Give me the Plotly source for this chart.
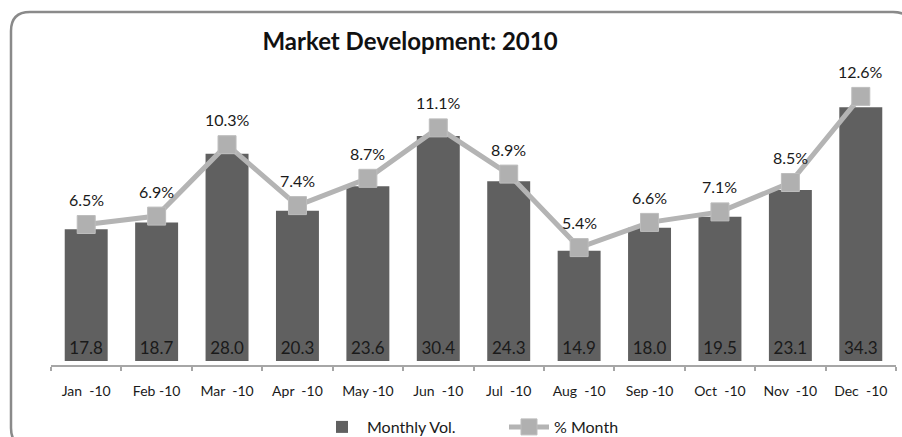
import plotly.graph_objects as go

months = ["Jan\u00a0 -10", "Feb -10", "Mar\u00a0 -10", "Apr\u00a0 -10", "May -10", "Jun\u00a0 -10",
          "Jul\u00a0 -10", "Aug\u00a0 -10", "Sep -10", "Oct\u00a0 -10", "Nov\u00a0 -10", "Dec\u00a0 -10"]
monthly_vol = [17.8, 18.7, 28.0, 20.3, 23.6, 30.4, 24.3, 14.9, 18.0, 19.5, 23.1, 34.3]
pct_month = [6.5, 6.9, 10.3, 7.4, 8.7, 11.1, 8.9, 5.4, 6.6, 7.1, 8.5, 12.6]

FONT = "Lato"
W, H = 902, 437
ML, MR, MT, MB = 51, 6, 60, 72
PW, PH = W - ML - MR, H - MT - MB

fig = go.Figure()
fig.add_trace(go.Bar(
    x=months, y=monthly_vol, name="Monthly Vol.",
    marker=dict(color="#606060", line=dict(width=0)),
    text=[f"{v:.1f}" for v in monthly_vol], textposition="inside",
    insidetextanchor="start", textfont=dict(family=FONT, size=17, color="#1a1a1a"),
    textangle=0, yaxis="y",
))
fig.add_trace(go.Scatter(
    x=months, y=pct_month, name="% Month", yaxis="y2",
    mode="lines+markers",
    line=dict(color="#b4b4b4", width=5),
    marker=dict(symbol="square", size=18, color="#b0b0b0", line=dict(color="#bdbdbd", width=1)),
))
for m, p in zip(months, pct_month):
    fig.add_annotation(x=m, y=p, yref="y2", text=f"{p:.1f}%", showarrow=False,
                       yshift=25, font=dict(family=FONT, size=16, color="#1a1a1a"))

def px2paper(px, py):
    return (px - ML) / PW, (H - MB - py) / PH

x0, y0, x1, y1, r = 11, 12, 912, 447, 19
def P(px, py):
    a, b = px2paper(px, py)
    return f"{a:.5f},{b:.5f}"
path = (f"M {P(x0+r, y0)} L {P(x1-r, y0)} Q {P(x1, y0)} {P(x1, y0+r)} "
        f"L {P(x1, y1-r)} Q {P(x1, y1)} {P(x1-r, y1)} L {P(x0+r, y1)} "
        f"Q {P(x0, y1)} {P(x0, y1-r)} L {P(x0, y0+r)} Q {P(x0, y0)} {P(x0+r, y0)} Z")
fig.add_shape(type="path", path=path, xref="paper", yref="paper",
              line=dict(color="#8a8a8a", width=2.5), layer="below")

y_scale = 7.4
y2_scale = 21.0
zero_px = 361
top_span = zero_px - MT
bot_span = (H - MB) - zero_px

fig.update_layout(
    width=W, height=H,
    margin=dict(l=ML, r=MR, t=MT, b=MB, autoexpand=False),
    paper_bgcolor="white", plot_bgcolor="white",
    font=dict(family=FONT, color="#1a1a1a"),
    title=dict(text="<b>Market Development: 2010</b>", x=410 / W, xref="container",
               xanchor="center", y=1 - 42 / H, yref="container", yanchor="middle",
               font=dict(family=FONT, size=24, color="#111")),
    bargap=0.39,
    showlegend=True,
    legend=dict(orientation="h", x=(317 - ML) / PW, xanchor="left", y=(H - MB - 427) / PH,
                yanchor="middle", font=dict(family=FONT, size=16, color="#1a1a1a"),
                bgcolor="rgba(0,0,0,0)", itemwidth=40, entrywidth=132, tracegroupgap=0),
    xaxis=dict(range=[-0.5, len(months) - 0.5], showgrid=False, showline=True,
               linecolor="#a6a6a6", linewidth=2,
               ticks="outside", tickson="boundaries", tickcolor="#a6a6a6", ticklen=4,
               tickwidth=2, tickfont=dict(family=FONT, size=14, color="#1a1a1a"),
               ticklabelstandoff=12),
    yaxis=dict(range=[-bot_span / y_scale, top_span / y_scale], visible=False,
               showgrid=False, zeroline=False),
    yaxis2=dict(range=[-bot_span / y2_scale, top_span / y2_scale], visible=False,
                overlaying="y", showgrid=False, zeroline=False),
)

fig.write_html("out.html", config={"displayModeBar": False},
               post_script="document.body.style.margin='0';")
